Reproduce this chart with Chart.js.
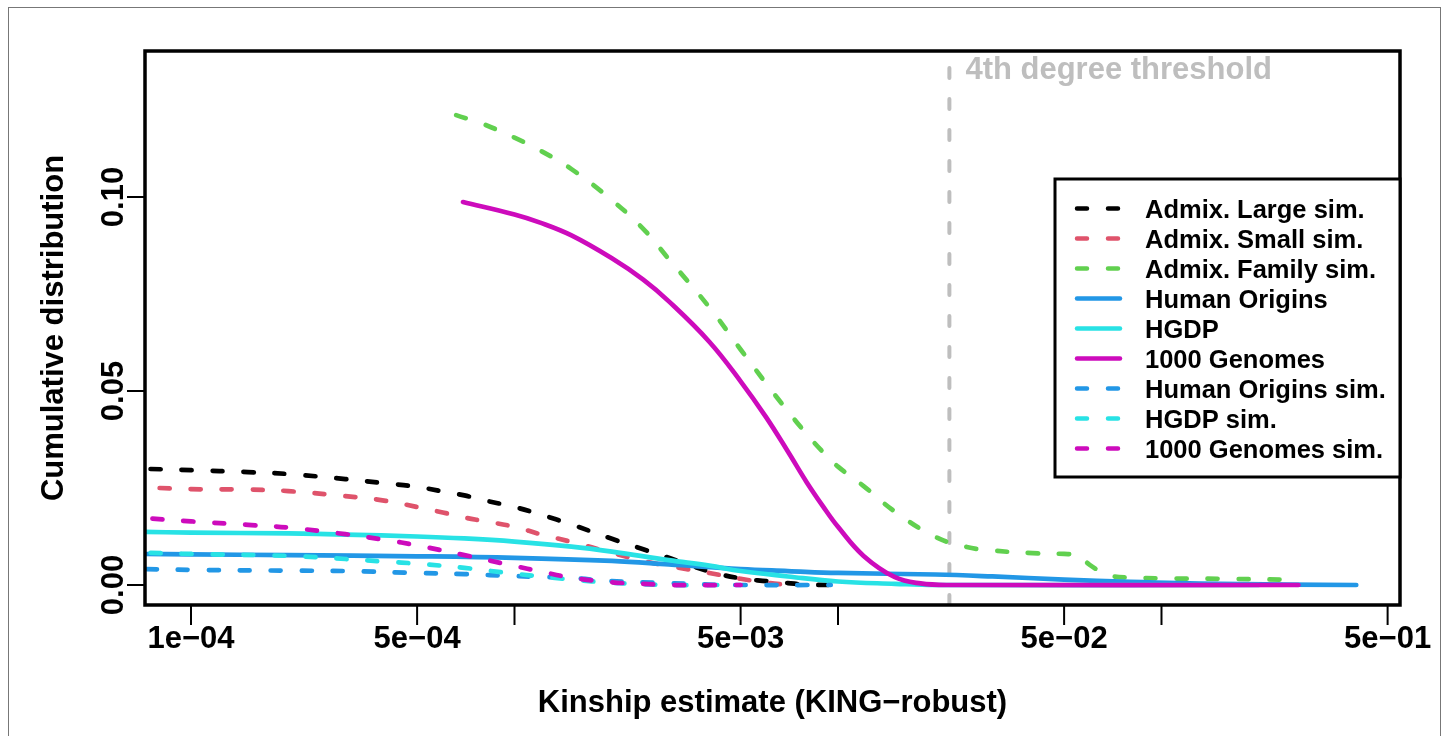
<!DOCTYPE html>
<html>
<head>
<meta charset="utf-8">
<script src="https://cdn.jsdelivr.net/npm/chart.js@4.4.1/dist/chart.umd.min.js"></script>
<style>
  html, body { margin: 0; padding: 0; background: #fff; }
  canvas { display: block; }
</style>
</head>
<body>
<canvas id="kinChart" width="1448" height="736"></canvas>
<script>
// legend order = drawing order
const seriesNames = ["Admix. Large sim.", "Admix. Small sim.", "Admix. Family sim.",
  "Human Origins", "HGDP", "1000 Genomes",
  "Human Origins sim.", "HGDP sim.", "1000 Genomes sim."];
const seriesColors = ["#000000", "#DF536B", "#61D04F", "#2297E6", "#28E2E5", "#CD0BBC",
  "#2297E6", "#28E2E5", "#CD0BBC"];
const seriesDashed = [true, true, true, false, false, false, true, true, true];

// x: kinship estimate, y: cumulative distribution
const largeX = [7.5e-5, 1e-4, 1.5e-4, 2e-4, 3e-4, 4e-4, 5e-4, 6e-4, 7e-4, 8e-4, 1e-3, 1.2e-3, 1.5e-3, 2e-3, 2.5e-3, 3e-3, 4e-3, 5e-3, 6e-3, 7e-3, 8e-3, 1e-2, 1.06e-2];
const largeY = [0.0299, 0.0296, 0.0291, 0.0286, 0.0273, 0.0262, 0.0253, 0.0241, 0.0231, 0.0219, 0.0201, 0.0182, 0.0156, 0.0119, 0.0092, 0.0070, 0.0035, 0.0017, 0.0010, 0.0005, 0.0001, 0, 0];

const smallX = [8e-5, 1e-4, 1.5e-4, 2e-4, 3e-4, 4e-4, 5e-4, 6e-4, 7e-4, 8e-4, 1e-3, 1.2e-3, 1.5e-3, 2e-3, 2.5e-3, 3e-3, 4e-3, 5e-3, 6e-3, 7e-3];
const smallY = [0.0250, 0.0247, 0.0246, 0.0242, 0.0229, 0.0217, 0.0201, 0.0187, 0.0174, 0.0165, 0.0150, 0.0131, 0.0111, 0.0083, 0.0062, 0.0049, 0.0031, 0.0016, 0.0006, 0];

const familyX = [6.6e-4, 8e-4, 1e-3, 1.2e-3, 1.5e-3, 2e-3, 2.5e-3, 3e-3, 4e-3, 5e-3, 6e-3, 7e-3, 8e-3, 9e-3, 1e-2, 1.2e-2, 1.5e-2, 2e-2, 2.5e-2, 3e-2, 4e-2, 5e-2, 5.5e-2, 6e-2, 6.5e-2, 7e-2, 8e-2, 1e-1, 1.5e-1, 2.35e-1];
const familyY = [0.1211, 0.1188, 0.1153, 0.1120, 0.1072, 0.0992, 0.0918, 0.0840, 0.0716, 0.0607, 0.0519, 0.0448, 0.0389, 0.0342, 0.0305, 0.0255, 0.0189, 0.0124, 0.0098, 0.0089, 0.0082, 0.0080, 0.0076, 0.0052, 0.0034, 0.0023, 0.0019, 0.0017, 0.0016, 0.0014];

const hoX = [7e-5, 1e-4, 2e-4, 5e-4, 1e-3, 2e-3, 3e-3, 5e-3, 7e-3, 1e-2, 2e-2, 3e-2, 5e-2, 8e-2, 1.5e-1, 4e-1];
const hoY = [0.0080, 0.0079, 0.0077, 0.0074, 0.0070, 0.0062, 0.0053, 0.0041, 0.0036, 0.0031, 0.0027, 0.0022, 0.0014, 0.0008, 0.0003, 0];

const hgdpX = [7e-5, 1e-4, 2e-4, 3e-4, 5e-4, 7e-4, 1e-3, 1.5e-3, 2e-3, 3e-3, 4e-3, 5e-3, 7e-3, 1e-2, 1.5e-2, 2e-2, 2e-1];
const hgdpY = [0.0137, 0.0135, 0.0133, 0.0130, 0.0125, 0.0120, 0.0112, 0.0099, 0.0086, 0.0064, 0.0050, 0.0036, 0.0022, 0.0009, 0.0003, 0, 0];

const kgX = [6.93e-4, 1e-3, 1.2e-3, 1.5e-3, 2e-3, 2.5e-3, 3e-3, 4e-3, 5e-3, 6e-3, 7e-3, 8e-3, 9e-3, 1e-2, 1.2e-2, 1.5e-2, 1.8e-2, 2.2e-2, 2.65e-1];
const kgY = [0.0987, 0.0955, 0.0934, 0.0901, 0.0842, 0.0787, 0.0731, 0.0627, 0.0525, 0.0432, 0.0344, 0.0265, 0.0202, 0.0150, 0.0075, 0.0020, 0.0004, 0, 0];

const hoSimX = [7.3e-5, 1e-4, 2e-4, 3e-4, 5e-4, 7e-4, 1e-3, 1.5e-3, 2e-3, 3e-3, 4e-3, 5e-3, 9.5e-3];
const hoSimY = [0.0041, 0.0039, 0.0037, 0.0036, 0.0031, 0.0028, 0.0023, 0.0018, 0.0010, 0.0005, 0.0001, 0, 0];

const hgdpSimX = [7.5e-5, 1e-4, 2e-4, 3e-4, 4e-4, 5e-4, 7e-4, 1e-3, 1.5e-3, 2e-3, 3e-3, 4.3e-3];
const hgdpSimY = [0.0083, 0.0080, 0.0075, 0.0067, 0.0060, 0.0055, 0.0044, 0.0029, 0.0014, 0.0006, 0, 0];

const kgSimX = [7.6e-5, 1e-4, 1.5e-4, 2e-4, 3e-4, 4e-4, 5e-4, 7e-4, 1e-3, 1.2e-3, 1.5e-3, 2e-3, 2.5e-3, 3e-3, 5e-3];
const kgSimY = [0.0171, 0.0164, 0.0155, 0.0148, 0.0131, 0.0116, 0.0102, 0.0077, 0.0049, 0.0035, 0.0019, 0.0007, 0.0003, 0, 0];

const seriesX = [largeX, smallX, familyX, hoX, hgdpX, kgX, hoSimX, hgdpSimX, kgSimX];
const seriesY = [largeY, smallY, familyY, hoY, hgdpY, kgY, hoSimY, hgdpSimY, kgSimY];

// axis ticks
const xTicks = [1e-4, 5e-4, 1e-3, 5e-3, 1e-2, 5e-2, 1e-1, 5e-1];
const xTickLabels = ["1e\u221204", "5e\u221204", "", "5e\u221203", "", "5e\u221202", "", "5e\u221201"];
const yTicks = [0, 0.05, 0.10];
const yTickLabels = ["0.00", "0.05", "0.10"];

const threshold = Math.pow(2, -5.5); // 4th degree
const FONT = '"Liberation Sans", Arial, Helvetica, sans-serif';
const DASH = [10, 21];

function rText(ctx, text, x, y, align, rotated) {
  ctx.save();
  ctx.translate(x, y);
  if (rotated) ctx.rotate(-Math.PI / 2);
  ctx.textAlign = align;
  ctx.textBaseline = "alphabetic";
  ctx.fillText(text, 0, 0);
  ctx.restore();
}

const rFrame = {
  id: "rFrame",
  beforeDraw(chart) {
    const ctx = chart.ctx;
    ctx.save();
    ctx.fillStyle = "#ffffff";
    ctx.fillRect(0, 0, chart.width, chart.height);
    ctx.restore();
  },
  beforeDatasetsDraw(chart) {
    const { ctx, chartArea, scales } = chart;
    const tx = scales.x.getPixelForValue(threshold);
    ctx.save();
    ctx.beginPath();
    ctx.rect(chartArea.left, chartArea.top, chartArea.right - chartArea.left, chartArea.bottom - chartArea.top);
    ctx.clip();
    ctx.strokeStyle = "#BEBEBE";
    ctx.lineWidth = 4;
    ctx.lineCap = "round";
    ctx.setLineDash(DASH);
    ctx.beginPath();
    ctx.moveTo(tx, chartArea.bottom);
    ctx.lineTo(tx, chartArea.top);
    ctx.stroke();
    ctx.restore();

    ctx.save();
    ctx.fillStyle = "#BEBEBE";
    ctx.font = "bold 31px " + FONT;
    rText(ctx, "4th degree threshold", tx + 16, 79, "left", false);
    ctx.restore();
  },
  afterDraw(chart) {
    const { ctx, chartArea, scales } = chart;
    const a = chartArea;
    ctx.save();

    // plot box
    ctx.strokeStyle = "#000";
    ctx.lineWidth = 3.5;
    ctx.setLineDash([]);
    ctx.strokeRect(a.left, a.top, a.right - a.left, a.bottom - a.top);

    // ticks and labels
    ctx.lineWidth = 2;
    ctx.fillStyle = "#000";
    ctx.font = "bold 31px " + FONT;
    xTicks.forEach((v, i) => {
      const px = scales.x.getPixelForValue(v);
      ctx.beginPath();
      ctx.moveTo(px, a.bottom);
      ctx.lineTo(px, a.bottom + 20);
      ctx.stroke();
      if (xTickLabels[i]) rText(ctx, xTickLabels[i], px, a.bottom + 43, "center", false);
    });
    yTicks.forEach((v, i) => {
      const py = scales.y.getPixelForValue(v);
      ctx.beginPath();
      ctx.moveTo(a.left, py);
      ctx.lineTo(a.left - 18, py);
      ctx.stroke();
      rText(ctx, yTickLabels[i], a.left - 22, py, "center", true);
    });

    // axis titles
    rText(ctx, "Kinship estimate (KING\u2212robust)", (a.left + a.right) / 2, 712, "center", false);
    rText(ctx, "Cumulative distribution", 63, (a.top + a.bottom) / 2, "center", true);

    // legend
    const lx = 1055, ly = 179, lw = 345, lh = 298;
    ctx.fillStyle = "#fff";
    ctx.fillRect(lx, ly, lw, lh);
    ctx.lineWidth = 3;
    ctx.strokeRect(lx, ly, lw, lh);
    ctx.font = "bold 25.5px " + FONT;
    seriesNames.forEach((name, i) => {
      const y = 208.5 + i * 30;
      ctx.strokeStyle = seriesColors[i];
      ctx.lineWidth = 4.5;
      ctx.lineCap = "round";
      ctx.setLineDash(seriesDashed[i] ? DASH : []);
      ctx.beginPath();
      ctx.moveTo(1077, y);
      ctx.lineTo(1120, y);
      ctx.stroke();
      ctx.fillStyle = "#000";
      rText(ctx, name, 1145, y + 9, "left", false);
    });
    ctx.setLineDash([]);

    // outer frame
    ctx.strokeStyle = "#777";
    ctx.lineWidth = 1;
    ctx.strokeRect(8.5, 7.5, 1432, 740);
    ctx.restore();
  }
};

const datasets = seriesNames.map((name, i) => ({
  label: name,
  data: seriesX[i].map((x, j) => ({ x: x, y: seriesY[i][j] })),
  borderColor: seriesColors[i],
  backgroundColor: seriesColors[i],
  borderWidth: 4.7,
  borderDash: seriesDashed[i] ? DASH : [],
  borderCapStyle: "round",
  borderJoinStyle: "round",
  pointRadius: 0,
  fill: false,
  tension: 0.4,
  order: seriesNames.length - i
}));

new Chart(document.getElementById("kinChart"), {
  type: "line",
  data: { datasets: datasets },
  plugins: [rFrame],
  options: {
    responsive: false,
    animation: false,
    devicePixelRatio: 1,
    layout: { padding: { left: 145, right: 48, top: 51, bottom: 131 } },
    plugins: { legend: { display: false }, tooltip: { enabled: false } },
    scales: {
      x: { type: "logarithmic", min: 7.208e-5, max: 0.5461, bounds: "data", display: false },
      y: { type: "linear", min: -0.005155, max: 0.13763, bounds: "data", display: false }
    }
  }
});
</script>
</body>
</html>
